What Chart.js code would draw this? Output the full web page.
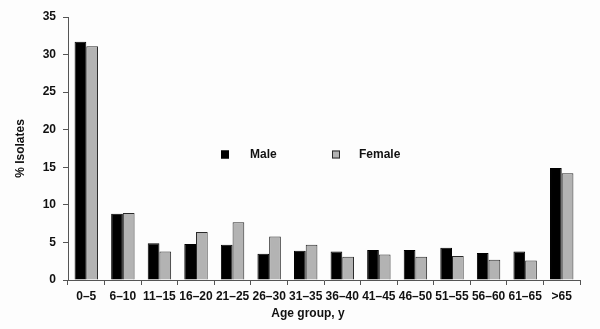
<!DOCTYPE html>
<html>
<head>
<meta charset="utf-8">
<script src="https://cdn.jsdelivr.net/npm/chart.js@4/dist/chart.umd.min.js"></script>
<style>
  html, body { margin: 0; padding: 0; background: #fdfdfd; }
  #wrap { width: 600px; height: 329px; position: relative; }
</style>
</head>
<body>
<div id="wrap"><canvas id="c"></canvas></div>
<script>
const ageGroups = ['0–5', '6–10', '11–15', '16–20', '21–25', '26–30', '31–35', '36–40', '41–45', '46–50', '51–55', '56–60', '61–65', '>65'];
const maleValues = [31.7, 8.8, 4.9, 4.8, 4.7, 3.5, 3.9, 3.8, 4.0, 4.0, 4.3, 3.6, 3.8, 14.9];
const femaleValues = [31.1, 8.9, 3.8, 6.4, 7.7, 5.8, 4.7, 3.1, 3.4, 3.1, 3.2, 2.7, 2.6, 14.2];
const yTicks = [0, 5, 10, 15, 20, 25, 30, 35];

const FONT = '"Liberation Sans", Arial, sans-serif';
const AXIS = '#555555';

// Legend drawn inside the plot area, plus the x-axis title
const overlay = {
  id: 'overlay',
  afterDraw(chart) {
    const ctx = chart.ctx;
    const a = chart.chartArea;
    ctx.save();
    ctx.font = 'bold 12px ' + FONT;
    ctx.textBaseline = 'middle';
    ctx.fillStyle = '#111';
    const items = [
      { label: chart.data.datasets[0].label, ds: chart.data.datasets[0], box: 153, text: 182 },
      { label: chart.data.datasets[1].label, ds: chart.data.datasets[1], box: 264, text: 291 }
    ];
    const cy = 154.5;
    items.forEach(it => {
      const bx = a.left + it.box;
      ctx.fillStyle = it.ds.backgroundColor;
      ctx.fillRect(bx, cy - 4, 8, 8);
      ctx.strokeStyle = it.ds.borderColor;
      ctx.lineWidth = 1;
      ctx.strokeRect(bx + 0.5, cy - 3.5, 7, 7);
      ctx.fillStyle = '#111';
      ctx.textAlign = 'left';
      ctx.fillText(it.label, a.left + it.text, cy);
    });
    ctx.textAlign = 'center';
    ctx.fillText('Age group, y', 308, 314);
    ctx.restore();
  }
};

new Chart(document.getElementById('c'), {
  type: 'bar',
  data: {
    labels: ageGroups,
    datasets: [
      { label: 'Male', data: maleValues, backgroundColor: '#000000', borderColor: '#000000', borderWidth: 1 },
      { label: 'Female', data: femaleValues, backgroundColor: '#b3b3b3', borderColor: '#2a2a2a', borderWidth: 1 }
    ]
  },
  options: {
    responsive: true,
    maintainAspectRatio: false,
    animation: false,
    layout: { padding: { top: 17, right: 20, bottom: 0, left: 0 } },
    datasets: { bar: { categoryPercentage: 0.64, barPercentage: 1.0 } },
    plugins: { legend: { display: false }, tooltip: { enabled: false } },
    scales: {
      x: {
        grid: { display: true, drawOnChartArea: false, drawTicks: true, tickLength: 5, color: AXIS, offset: true },
        border: { display: true, color: AXIS, width: 1 },
        ticks: { color: '#111', font: { family: FONT, size: 12, weight: 'bold' }, padding: 4, maxRotation: 0, autoSkip: false },
        afterFit(scale) { scale.height = 49; }
      },
      y: {
        min: 0, max: 35,
        afterBuildTicks(scale) { scale.ticks = yTicks.map(v => ({ value: v })); },
        grid: { display: true, drawOnChartArea: false, drawTicks: true, tickLength: 5, color: AXIS },
        border: { display: true, color: AXIS, width: 1 },
        ticks: { color: '#111', font: { family: FONT, size: 12, weight: 'bold' }, padding: 7 },
        title: { display: true, text: '% Isolates', color: '#111', font: { family: FONT, size: 12, weight: 'bold' }, padding: { top: 13, bottom: 4 } },
        afterFit(scale) { scale.width = 68; }
      }
    }
  },
  plugins: [overlay]
});
</script>
</body>
</html>
